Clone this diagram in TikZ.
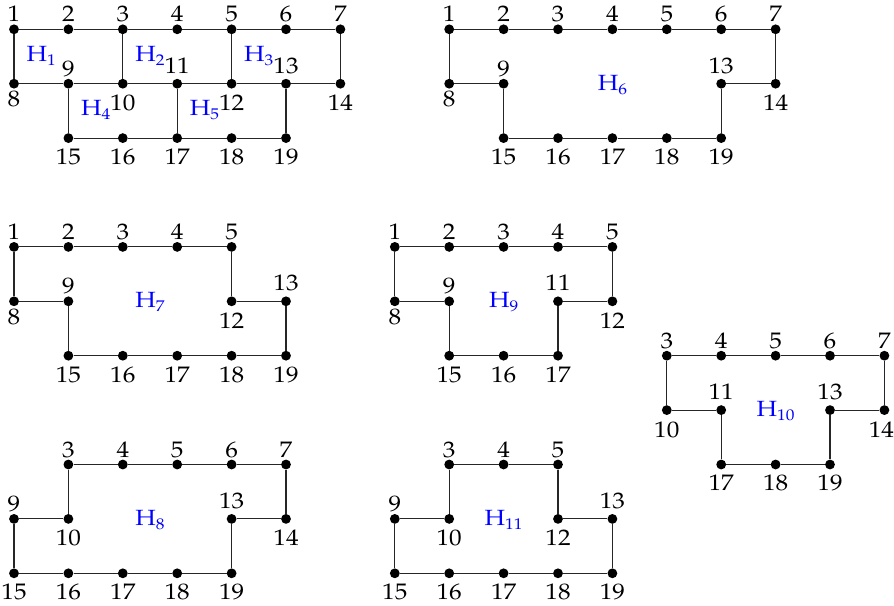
\documentclass[tikz,border=0pt]{standalone}
\usepackage{fontspec}
\setmainfont{TeX Gyre Pagella}[FakeStretch=1.12]
\newcommand\Hs[1]{H\raisebox{-4pt}{\fontsize{15.5}{16}\selectfont #1}}
\newcommand\VV[2]{%
  \pgfmathtruncatemacro\cc{#1<=7 ? #1-1 : (#1<=14 ? #1-8 : #1-14)}%
  \pgfmathtruncatemacro\rr{#1<=7 ? 0 : (#1<=14 ? 1 : 2)}%
  \ifnum#1>9 \def\upd{10.5pt}\def\dnd{-27pt}\else\def\upd{7.5pt}\def\dnd{-23pt}\fi
  \ifnum#1>14 \def\dnd{-26.3pt}\fi
  \node[vtx] (#1) at (\cc,\rr) {};%
  \if u#2
    \node[lab] (l#1) at ([yshift=\upd]#1) {#1};%
  \else
    \node[lab] (l#1) at ([yshift=\dnd]#1) {#1};%
  \fi}
\tikzset{
  vtx/.style={circle, fill=black, inner sep=0pt, minimum size=9.8pt},
  lab/.style={anchor=base, inner sep=0pt, text depth=0pt, font=\fontsize{22.5}{26}\selectfont},
  hl/.style={anchor=base, inner sep=0pt, text=blue, font=\fontsize{22}{26}\selectfont},
  edge/.style={draw=black!85, line width=1.05pt}
}
\begin{document}
\begin{tikzpicture}[x=54.4pt, y=-54.4pt]
\useasboundingbox (-14pt,29.3pt) rectangle (880pt,-575.7pt);
% H1..H5
\begin{scope}[name prefix=ga-]
  \foreach \n/\p in {1/u,2/u,3/u,4/u,5/u,6/u,7/u,8/d,9/u,10/d,11/u,12/d,13/u,14/d,15/d,16/d,17/d,18/d,19/d}{\VV{\n}{\p}}
  \draw[edge] (1)--(2)--(3)--(4)--(5)--(6)--(7);
  \draw[edge] (8)--(9)--(10)--(11)--(12)--(13)--(14);
  \draw[edge] (15)--(16)--(17)--(18)--(19);
  \draw[edge] (1)--(8) (3)--(10) (5)--(12) (7)--(14) (9)--(15) (11)--(17) (13)--(19);
  \coordinate (c1) at (0.5,0.5); \coordinate (c2) at (2.5,0.5); \coordinate (c3) at (4.5,0.5);
  \coordinate (c4) at (1.5,1.5); \coordinate (c5) at (3.5,1.5);
  \node[hl] (h1) at ([yshift=-5pt]c1) {\Hs{1}};
  \node[hl] (h2) at ([yshift=-5pt]c2) {\Hs{2}};
  \node[hl] (h3) at ([yshift=-5pt]c3) {\Hs{3}};
  \node[hl] (h4) at ([yshift=-5pt]c4) {\Hs{4}};
  \node[hl] (h5) at ([yshift=-5pt]c5) {\Hs{5}};
\end{scope}
% H6
\begin{scope}[shift={(8,0)}, name prefix=gb-]
  \foreach \n/\p in {1/u,2/u,3/u,4/u,5/u,6/u,7/u,8/d,9/u,13/u,14/d,15/d,16/d,17/d,18/d,19/d}{\VV{\n}{\p}}
  \draw[edge] (1)--(2)--(3)--(4)--(5)--(6)--(7)--(14)--(13)--(19)--(18)--(17)--(16)--(15)--(9)--(8)--(1);
  \coordinate (c) at (3,1);
  \node[hl] (h) at ([yshift=-6.5pt]c) {\Hs{6}};
\end{scope}
% H7
\begin{scope}[shift={(0,4)}, name prefix=gc-]
  \foreach \n/\p in {1/u,2/u,3/u,4/u,5/u,8/d,9/u,12/d,13/u,15/d,16/d,17/d,18/d,19/d}{\VV{\n}{\p}}
  \draw[edge] (1)--(2)--(3)--(4)--(5)--(12)--(13)--(19)--(18)--(17)--(16)--(15)--(9)--(8)--(1);
  \coordinate (c) at (2.5,1);
  \node[hl] (h) at ([yshift=-6.5pt]c) {\Hs{7}};
\end{scope}
% H9
\begin{scope}[shift={(7,4)}, name prefix=gd-]
  \foreach \n/\p in {1/u,2/u,3/u,4/u,5/u,8/d,9/u,11/u,12/d,15/d,16/d,17/d}{\VV{\n}{\p}}
  \draw[edge] (1)--(2)--(3)--(4)--(5)--(12)--(11)--(17)--(16)--(15)--(9)--(8)--(1);
  \coordinate (c) at (2,1);
  \node[hl] (h) at ([yshift=-6.5pt]c) {\Hs{9}};
\end{scope}
% H10
\begin{scope}[shift={(10,6)}, name prefix=ge-]
  \foreach \n/\p in {3/u,4/u,5/u,6/u,7/u,10/d,11/u,13/u,17/d,18/d,19/d}{\VV{\n}{\p}}
  \node[vtx] (14) at (6,1) {};
  \node[lab] (l14) at ([yshift=-27pt, xshift=-3pt]14) {14};
  \draw[edge] (3)--(4)--(5)--(6)--(7)--(14)--(13)--(19)--(18)--(17)--(11)--(10)--(3);
  \coordinate (c) at (4,1);
  \node[hl] (h) at ([yshift=-6.5pt]c) {\Hs{10}};
\end{scope}
% H8
\begin{scope}[shift={(-1,8)}, name prefix=gf-]
  \foreach \n/\p in {3/u,4/u,5/u,6/u,7/u,9/u,10/d,13/u,14/d,15/d,16/d,17/d,18/d,19/d}{\VV{\n}{\p}}
  \draw[edge] (3)--(4)--(5)--(6)--(7)--(14)--(13)--(19)--(18)--(17)--(16)--(15)--(9)--(10)--(3);
  \coordinate (c) at (3.5,1);
  \node[hl] (h) at ([yshift=-6.5pt]c) {\Hs{8}};
\end{scope}
% H11
\begin{scope}[shift={(6,8)}, name prefix=gg-]
  \foreach \n/\p in {3/u,4/u,5/u,9/u,10/d,12/d,13/u,15/d,16/d,17/d,18/d,19/d}{\VV{\n}{\p}}
  \draw[edge] (3)--(4)--(5)--(12)--(13)--(19)--(18)--(17)--(16)--(15)--(9)--(10)--(3);
  \coordinate (c) at (3,1);
  \node[hl] (h) at ([yshift=-6.5pt]c) {\Hs{11}};
\end{scope}
\end{tikzpicture}
\end{document}
